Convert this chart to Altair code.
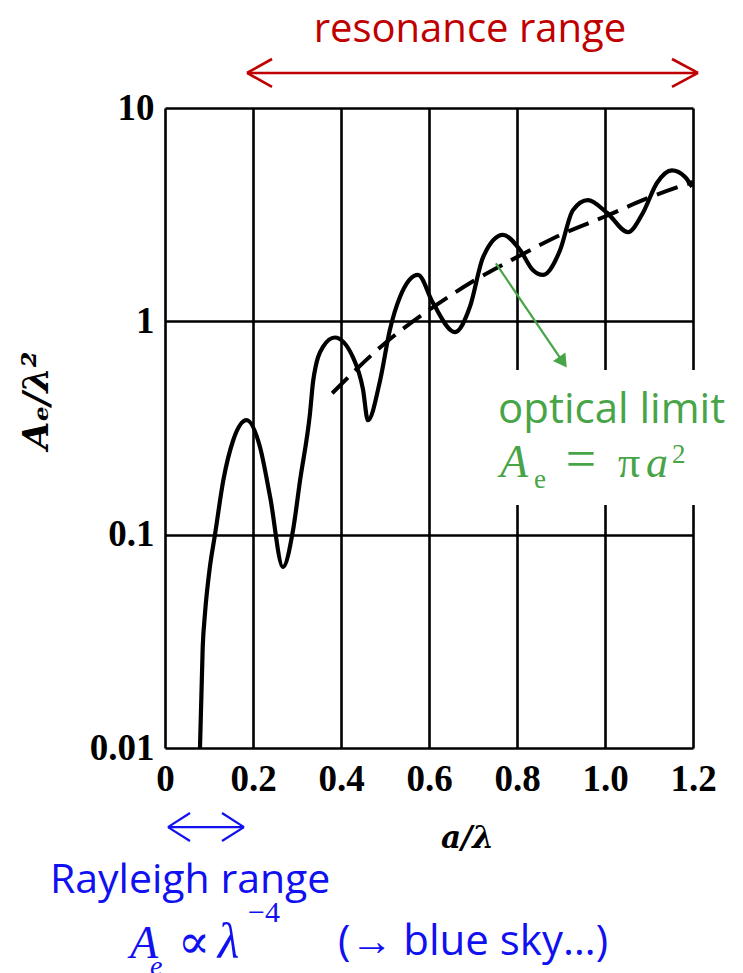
import altair as alt
import pandas as pd

# Extinction cross-section of a dielectric sphere: A_e / lambda^2 against a / lambda
ratio = [0.0795, 0.0857, 0.091, 0.102, 0.1136, 0.1326, 0.155, 0.1856, 0.216, 0.239,
         0.268, 0.291, 0.307, 0.3295, 0.337, 0.359, 0.386, 0.427, 0.45, 0.461,
         0.489, 0.511, 0.534, 0.575, 0.609, 0.659, 0.693, 0.723, 0.768, 0.807,
         0.836, 0.859, 0.898, 0.927, 0.961, 1.005, 1.052, 1.086, 1.118, 1.152,
         1.182, 1.198]
area = [0.01, 0.0297, 0.043, 0.0705, 0.1, 0.18, 0.277, 0.344, 0.257, 0.15,
        0.0705, 0.105, 0.18, 0.37, 0.53, 0.76, 0.84, 0.68, 0.48, 0.344,
        0.53, 0.91, 1.3, 1.65, 1.22, 0.89, 1.17, 2.0, 2.54, 2.16,
        1.74, 1.65, 2.16, 3.32, 3.7, 3.22, 2.62, 3.22, 4.45, 5.1,
        4.75, 4.27]

# Geometric-optics limit A_e = pi a^2
optic_ratio = [0.38, 0.5, 0.6, 0.7, 0.8, 0.9, 1.0, 1.1, 1.2]
optic_area = [0.46, 0.79, 1.13, 1.54, 2.0, 2.55, 3.1, 3.8, 4.5]

x_ticks = [0, 0.2, 0.4, 0.6, 0.8, 1.0, 1.2]
y_ticks = [0.01, 0.1, 1, 10]

RED = "#C00000"
GREEN = "#47A447"
BLUE = "#1010F0"

# Double-headed range arrows (segments in data units: x, y, x2, y2)
res_tip_l, res_tip_r, res_arm_l, res_arm_r = 0.1864, 1.2114, 0.2432, 1.1523
res_y, res_y_hi, res_y_lo = 14.6, 16.97, 12.55
ray_tip_l, ray_tip_r, ray_arm_l, ray_arm_r = 0.0068, 0.1795, 0.0568, 0.1295
ray_y, ray_y_hi, ray_y_lo = 0.004256, 0.00496, 0.003664

# Pointer from the dashed curve to its label
ptr_from = (0.752, 1.87)
ptr_to = (0.9045, 0.644)

# Paper patch behind the optical-limit label
patch_x, patch_x2 = 0.7386, 1.3136
patch_y, patch_y2 = 0.1377, 0.591

xs = alt.Scale(domain=[0, 1.2], nice=False, zero=False)
ys = alt.Scale(type="log", domain=[0.01, 10], nice=False)

x_axis = alt.Axis(
    values=x_ticks,
    labelExpr="datum.value == 0 ? '0' : format(datum.value, '.1f')",
    grid=True, gridColor="black", gridOpacity=1, gridWidth=2.6,
    domain=False, ticks=False,
    labelFont="Liberation Serif", labelFontWeight="bold", labelFontSize=37,
    labelColor="black", labelPadding=13, labelFlush=False, labelOverlap=False,
    title="a/λ", titleFont="DejaVu Serif", titleFontStyle="italic",
    titleFontWeight="bold", titleFontSize=31, titleColor="black",
    titleX=302, titleY=90, titleAlign="center", titleBaseline="middle",
)
y_axis = alt.Axis(
    values=y_ticks, format="~g",
    grid=True, gridColor="black", gridOpacity=1, gridWidth=2.6,
    domain=False, ticks=False,
    labelFont="Liberation Serif", labelFontWeight="bold", labelFontSize=37,
    labelColor="black", labelPadding=11, labelFlush=False, labelOverlap=False,
    title="Aₑ/λ²", titleFont="DejaVu Serif", titleFontStyle="italic",
    titleFontWeight="bold", titleFontSize=36, titleColor="black",
    titleAngle=270, titleX=-129, titleY=292, titleAlign="center",
    titleBaseline="middle",
)

curve_df = pd.DataFrame({"r": ratio, "A": area})
optic_df = pd.DataFrame({"r": optic_ratio, "A": optic_area})

patch = alt.Chart(pd.DataFrame({"x": [patch_x], "x2": [patch_x2],
                                "y": [patch_y], "y2": [patch_y2]})).mark_rect(
    color="white"
).encode(
    x=alt.X("x:Q", scale=xs, axis=x_axis),
    x2="x2:Q",
    y=alt.Y("y:Q", scale=ys, axis=y_axis),
    y2="y2:Q",
)

curve = alt.Chart(curve_df).mark_line(
    color="black", strokeWidth=4.2, interpolate="monotone"
).encode(x=alt.X("r:Q", scale=xs), y=alt.Y("A:Q", scale=ys))

optic = alt.Chart(optic_df).mark_line(
    color="black", strokeWidth=4, strokeDash=[22, 10], interpolate="monotone"
).encode(x=alt.X("r:Q", scale=xs), y=alt.Y("A:Q", scale=ys))


def segments(rows, color, width):
    df = pd.DataFrame(rows, columns=["x", "y", "x2", "y2"])
    return alt.Chart(df).mark_rule(color=color, strokeWidth=width).encode(
        x=alt.X("x:Q", scale=xs), y=alt.Y("y:Q", scale=ys), x2="x2:Q", y2="y2:Q"
    )


res_arrow = segments([
    (res_tip_l, res_y, res_tip_r, res_y),
    (res_tip_l, res_y, res_arm_l, res_y_hi),
    (res_tip_l, res_y, res_arm_l, res_y_lo),
    (res_tip_r, res_y, res_arm_r, res_y_hi),
    (res_tip_r, res_y, res_arm_r, res_y_lo),
], RED, 2.6)

ray_arrow = segments([
    (ray_tip_l, ray_y, ray_tip_r, ray_y),
    (ray_tip_l, ray_y, ray_arm_l, ray_y_hi),
    (ray_tip_l, ray_y, ray_arm_l, ray_y_lo),
    (ray_tip_r, ray_y, ray_arm_r, ray_y_hi),
    (ray_tip_r, ray_y, ray_arm_r, ray_y_lo),
], BLUE, 2.2)

ptr_line = segments([(ptr_from[0], ptr_from[1], ptr_to[0], ptr_to[1])], GREEN, 2.2)
ptr_head = alt.Chart(pd.DataFrame({"x": [ptr_to[0]], "y": [ptr_to[1]]})).mark_point(
    shape="triangle-up", filled=True, color=GREEN, opacity=1, size=230, angle=145
).encode(x=alt.X("x:Q", scale=xs), y=alt.Y("y:Q", scale=ys))


def label(rows, color, font, size, style="normal", align="left", baseline="alphabetic"):
    df = pd.DataFrame(rows, columns=["t", "x", "y"])
    return alt.Chart(df).mark_text(
        color=color, font=font, fontSize=size, fontStyle=style,
        align=align, baseline=baseline,
    ).encode(x=alt.X("x:Q", scale=xs), y=alt.Y("y:Q", scale=ys), text="t:N")


texts = [
    label([("resonance range", 0.693, 20.3)], RED, "Open Sans", 40, align="center"),
    label([("optical limit", 0.7568, 0.3336)], GREEN, "Open Sans", 42),
    label([("A", 0.7614, 0.1862)], GREEN, "Liberation Serif", 46, style="italic"),
    label([("a", 1.0932, 0.1862)], GREEN, "Liberation Serif", 44, style="italic"),
    label([("e", 0.8386, 0.1654)], GREEN, "Liberation Serif", 27),
    label([("=", 0.9455, 0.1862)], GREEN, "Liberation Serif", 54, align="center"),
    label([("π", 1.0295, 0.1862)], GREEN, "Liberation Serif", 44),
    label([("2", 1.152, 0.2168)], GREEN, "Liberation Serif", 27),
    label([("Rayleigh range", -0.2614, 0.00209)], BLUE, "Open Sans", 41),
    label([("(→ blue sky…)", 0.3932, 0.00107)], BLUE, "Open Sans", 42),
    label([("A", -0.0795, 0.001035)], BLUE, "Liberation Serif", 46, style="italic"),
    label([("λ", 0.12, 0.001035)], BLUE, "Liberation Serif", 50, style="italic"),
    label([("e", -0.034, 0.000862)], BLUE, "Liberation Serif", 28, style="italic"),
    label([("∝", 0.0659, 0.001035)], BLUE, "DejaVu Serif", 48, align="center"),
    label([("−4", 0.1886, 0.001528)], BLUE, "Liberation Serif", 30),
]

chart = alt.layer(
    patch, optic, curve, res_arrow, ray_arrow, ptr_line, ptr_head, *texts
).properties(
    width=528, height=640,
    padding={"left": 165, "top": 108, "right": 50, "bottom": 225},
    autosize=alt.AutoSizeParams(type="none"),
    background="white",
).configure_view(stroke="transparent")

chart.save("out.html", embed_options={"renderer": "svg", "actions": False})
